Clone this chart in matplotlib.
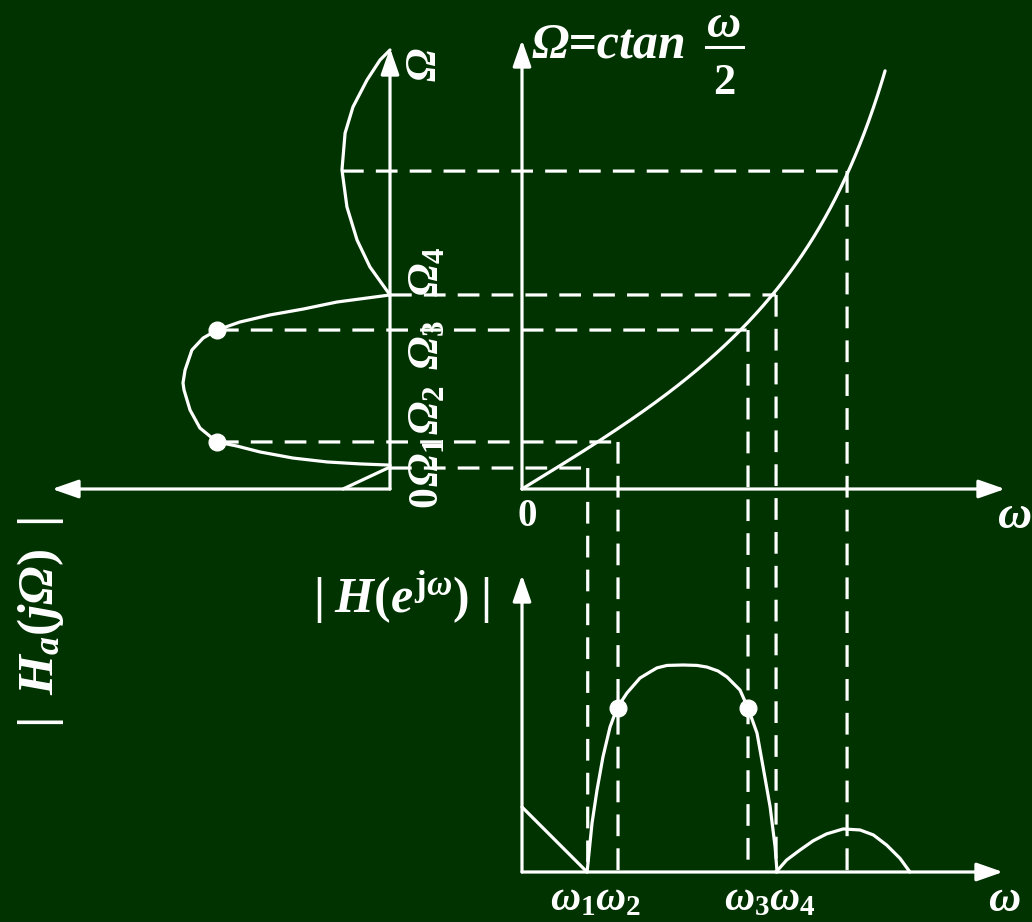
import numpy as np
import matplotlib
matplotlib.use("Agg")
import matplotlib.pyplot as plt
from matplotlib.patches import ConnectionPatch
from matplotlib.lines import Line2D

plt.rcParams["font.family"] = ["Liberation Serif", "DejaVu Serif"]
plt.rcParams["mathtext.fontset"] = "custom"
plt.rcParams["mathtext.rm"] = "Liberation Serif:bold"
plt.rcParams["mathtext.it"] = "Liberation Serif:italic:bold"
plt.rcParams["mathtext.bf"] = "Liberation Serif:italic:bold"

# ---------------- data ----------------
c = 1.0                                   # bilinear constant in Omega = c tan(omega/2)
omega_curve_end = 2.265                   # last omega drawn on the warping curve

omega_edges = [0.410, 0.599, 1.410, 1.585]   # omega1 .. omega4
Omega_edges = [0.107, 0.240, 0.811, 0.990]   # Omega1 .. Omega4
omega_stop_peak = 2.028
Omega_stop_peak = 1.622

# analog prototype |Ha(jOmega)| (drawn leftwards from the Omega axis)
analog_lp_Omega = [0.0, 0.112]
analog_lp_mag = [0.227, 0.0]
analog_pass_Omega = [0.122, 0.128, 0.138, 0.158, 0.189, 0.219, 0.240, 0.311, 0.403,
                     0.505, 0.541, 0.607, 0.709, 0.770, 0.811, 0.852, 0.888, 0.918,
                     0.954, 0.990]
analog_pass_mag = [0.0, 0.145, 0.304, 0.469, 0.628, 0.739, 0.836, 0.918, 0.966,
                   0.995, 1.0, 0.990, 0.957, 0.903, 0.836, 0.725, 0.580, 0.420,
                   0.256, 0.0]
analog_stop_Omega = [0.990, 1.133, 1.270, 1.439, 1.628, 1.816, 1.949, 2.087, 2.189, 2.240]
analog_stop_mag = [0.0, 0.097, 0.159, 0.208, 0.232, 0.217, 0.179, 0.111, 0.048, 0.0]
analog_marker_mag = 0.836

# digital filter |H(e^jomega)|
digital_lp_omega = [0.0, 0.406]
digital_lp_mag = [0.314, 0.0]
digital_pass_omega = [0.406, 0.437, 0.468, 0.505, 0.549, 0.593, 0.655, 0.736, 0.798,
                      0.842, 0.905, 1.005, 1.092, 1.154, 1.223, 1.279, 1.360, 1.410,
                      1.466, 1.504, 1.548, 1.579, 1.591]
digital_pass_mag = [0.0, 0.237, 0.396, 0.556, 0.700, 0.792, 0.865, 0.937, 0.966,
                    0.986, 0.998, 1.0, 0.998, 0.990, 0.971, 0.942, 0.879, 0.792,
                    0.671, 0.507, 0.314, 0.121, 0.0]
digital_stop_omega = [1.585, 1.651, 1.734, 1.817, 1.900, 2.004, 2.109, 2.192, 2.275,
                      2.358, 2.420]
digital_stop_mag = [0.0, 0.058, 0.106, 0.151, 0.184, 0.208, 0.203, 0.179, 0.130,
                    0.066, 0.0]
digital_marker_mag = 0.792

# ---------------- layout ----------------
W, H = 1032, 922
BG = "#003300"
FG = "white"
LW = 2.3
X0_MID, Y0_MID = 522, 489       # origin of the warping plot (pixels)
X0_LEFT = 390                   # Omega axis of the analog plot
Y0_BOT = 872                    # omega axis of the digital plot
PX_OMEGA = 160.3                # pixels per rad of omega
PX_OMEGA_CAP = 196.0            # pixels per unit of Omega
PX_MAG = 207.0                  # pixels per unit magnitude

fig = plt.figure(figsize=(W / 100, H / 100), dpi=100, facecolor=BG)


def add_axes_px(x0, y0, x1, y1):
    ax = fig.add_axes([x0 / W, 1 - y1 / H, (x1 - x0) / W, (y1 - y0) / H])
    ax.set_axis_off()
    ax.patch.set_visible(False)
    return ax


ax_mid = add_axes_px(X0_MID, 0, W, Y0_MID)
ax_mid.set_xlim(0, (W - X0_MID) / PX_OMEGA)
ax_mid.set_ylim(0, Y0_MID / PX_OMEGA_CAP)

ax_left = add_axes_px(0, 0, X0_LEFT, Y0_MID)
ax_left.set_xlim(X0_LEFT / PX_MAG, 0)
ax_left.set_ylim(0, Y0_MID / PX_OMEGA_CAP)

ax_bot = add_axes_px(X0_MID, Y0_MID, W, H)
ax_bot.set_xlim(0, (W - X0_MID) / PX_OMEGA)
ax_bot.set_ylim(-(H - Y0_BOT) / PX_MAG, (Y0_BOT - Y0_MID) / PX_MAG)


def axis_arrow(ax, end):
    ax.annotate("", xy=end, xytext=(0, 0), annotation_clip=False,
                arrowprops=dict(arrowstyle="-|>,head_length=0.8,head_width=0.28",
                                color=FG, lw=LW, shrinkA=0, shrinkB=0,
                                mutation_scale=20))


def curve(ax, x, y):
    ax.plot(x, y, color=FG, lw=LW, clip_on=False, solid_joinstyle="round",
            solid_capstyle="round")


# axes with arrows
axis_arrow(ax_mid, (0, (Y0_MID - 40) / PX_OMEGA_CAP))
axis_arrow(ax_mid, ((1005 - X0_MID) / PX_OMEGA, 0))
axis_arrow(ax_left, (0, (Y0_MID - 48) / PX_OMEGA_CAP))
axis_arrow(ax_left, ((X0_LEFT - 52) / PX_MAG, 0))
axis_arrow(ax_bot, (0, (Y0_BOT - 575) / PX_MAG))
axis_arrow(ax_bot, ((1003 - X0_MID) / PX_OMEGA, 0))

# frequency warping curve
w = np.linspace(0, omega_curve_end, 400)
curve(ax_mid, w, c * np.tan(w / 2))

# analog response
curve(ax_left, analog_lp_mag, analog_lp_Omega)
curve(ax_left, analog_pass_mag, analog_pass_Omega)
curve(ax_left, analog_stop_mag, analog_stop_Omega)
ax_left.plot([analog_marker_mag] * 2, [Omega_edges[1], Omega_edges[2]], "o",
             color=FG, ms=12, clip_on=False)

# digital response
curve(ax_bot, digital_lp_omega, digital_lp_mag)
curve(ax_bot, digital_pass_omega, digital_pass_mag)
curve(ax_bot, digital_stop_omega, digital_stop_mag)
ax_bot.plot([omega_edges[1], omega_edges[2]], [digital_marker_mag] * 2, "o",
            color=FG, ms=12, clip_on=False)

# dashed projections between the three plots
DASH = (0, (6.8, 3.8))


def dashed(xyA, axA, xyB, axB):
    con = ConnectionPatch(xyA, xyB, coordsA=axA.transData, coordsB=axB.transData,
                          color=FG, lw=LW, linestyle=DASH, capstyle="butt")
    fig.add_artist(con)


starts = [0.0, analog_marker_mag, analog_marker_mag, 0.0]
for a0, om, Om in zip(starts, omega_edges, Omega_edges):
    dashed((a0, Om), ax_left, (om, Om), ax_mid)
    dashed((om, Om), ax_mid, (om, 0), ax_bot)
dashed((max(analog_stop_mag), Omega_stop_peak), ax_left,
       (omega_stop_peak, Omega_stop_peak), ax_mid)
dashed((omega_stop_peak, Omega_stop_peak), ax_mid, (omega_stop_peak, 0), ax_bot)


# ---------------- text ----------------
def fx(x):
    return x / W


def fy(y):
    return 1 - y / H


TXT = dict(color=FG, family="Liberation Serif", weight="bold")

fig.text(fx(532), fy(58), "Ω=ctan", fontsize=36, style="italic", ha="left",
         va="baseline", **TXT)
fig.text(fx(724), fy(37), "ω", fontsize=34, style="italic", ha="center",
         va="baseline", **TXT)
fig.add_artist(Line2D([fx(706), fx(743)], [fy(47), fy(47)], transform=fig.transFigure,
                      color=FG, lw=2.2))
fig.text(fx(724), fy(94), "2", fontsize=32, ha="center", va="baseline", **TXT)

# Omega axis labels of the analog plot
fig.text(fx(425), fy(65), r"$\mathbf{\Omega}$", fontsize=32, rotation=90,
         ha="center", va="center", color=FG)
fig.text(fx(426), fy(497), "0", fontsize=30, rotation=90, ha="center", va="center",
         **TXT)
for lab, yc in zip([r"$\mathbf{\Omega}_1$", r"$\mathbf{\Omega}_2$",
                    r"$\mathbf{\Omega}_3$", r"$\mathbf{\Omega}_4$"],
                   [462, 410, 345, 272]):
    fig.text(fx(427), fy(yc), lab, fontsize=32, rotation=90, ha="center",
             va="center", color=FG)

fig.text(fx(527), fy(516), "0", fontsize=28, ha="center", va="center", **TXT)
fig.text(fx(1015), fy(517), "ω", fontsize=34, style="italic", ha="center",
         va="center", **TXT)

fig.text(fx(313), fy(612), r"$|\;\mathit{H}(\mathit{e}^{\mathrm{j}\omega})\;|$",
         fontsize=36, ha="left", va="baseline", color=FG)
fig.text(fx(40), fy(622),
         r"$|\;\;\mathit{H}_{\mathit{a}}(\mathit{j}\mathbf{\Omega})\;\;|$",
         fontsize=37, rotation=90, ha="center", va="center", color=FG)

fig.text(fx(596), fy(900), r"$\omega_1\omega_2$", fontsize=30, ha="center",
         va="center", color=FG)
fig.text(fx(770), fy(900), r"$\omega_3\omega_4$", fontsize=30, ha="center",
         va="center", color=FG)
fig.text(fx(1004), fy(900), "ω", fontsize=32, style="italic", ha="center",
         va="center", **TXT)

fig.savefig("out.png", dpi=100, facecolor=BG)
